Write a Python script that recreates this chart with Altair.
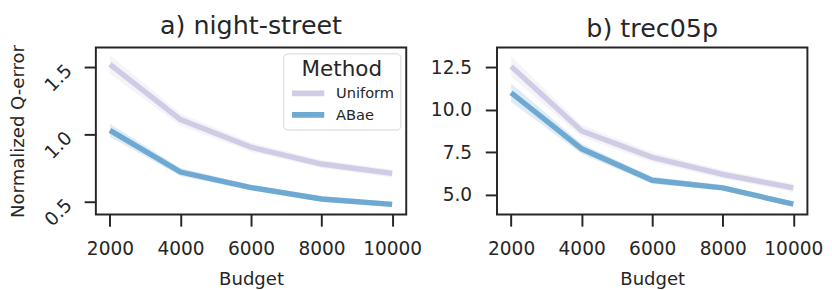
import altair as alt
import pandas as pd

budgets = [2000, 4000, 6000, 8000, 10000]
methods = ["Uniform", "ABae"]

ns_uniform = [1.52, 1.11, 0.905, 0.78, 0.71]
ns_uniform_ci = [0.07, 0.045, 0.035, 0.03, 0.03]
ns_abae = [1.03, 0.72, 0.605, 0.52, 0.48]
ns_abae_ci = [0.05, 0.03, 0.02, 0.02, 0.02]

tr_uniform = [12.55, 8.75, 7.2, 6.2, 5.4]
tr_uniform_ci = [0.6, 0.35, 0.3, 0.25, 0.25]
tr_abae = [11.0, 7.7, 5.85, 5.4, 4.45]
tr_abae_ci = [0.55, 0.3, 0.2, 0.15, 0.15]

colors = ["#cfcce5", "#6ea9d2"]
FONT = "DejaVu Sans"
INK = "#262626"


def make_df(uni, uni_ci, abae, abae_ci):
    rows = []
    for m, vals, cis in [("Uniform", uni, uni_ci), ("ABae", abae, abae_ci)]:
        for b, v, c in zip(budgets, vals, cis):
            rows.append({"Budget": b, "value": v, "lo": v - c, "hi": v + c, "Method": m})
    return pd.DataFrame(rows)


def panel(title, df, ydomain, yticks, ytitle, label_angle, label_pad, title_pad, legend):
    xenc = alt.X(
        "Budget:Q",
        scale=alt.Scale(domain=[1600, 10400], nice=False, zero=False),
        axis=alt.Axis(values=budgets, format="d", title="Budget"),
    )
    yscale = alt.Scale(domain=ydomain, nice=False, zero=False)
    yaxis = alt.Axis(
        values=yticks,
        format=".1f",
        title=ytitle,
        labelAngle=label_angle,
        labelPadding=label_pad,
        titlePadding=title_pad,
    )
    base = alt.Chart(df)
    band = base.mark_area(opacity=0.22).encode(
        x=xenc,
        y=alt.Y("lo:Q", scale=yscale, axis=yaxis),
        y2="hi:Q",
        fill=alt.Fill("Method:N", scale=alt.Scale(domain=methods, range=colors), legend=None),
    )
    line = base.mark_line(strokeWidth=5.5).encode(
        x=xenc,
        y=alt.Y("value:Q", scale=yscale, axis=yaxis),
        color=alt.Color("Method:N", scale=alt.Scale(domain=methods, range=colors), legend=legend),
    )
    return alt.layer(band, line).properties(
        width=318,
        height=171,
        title=alt.TitleParams(title, fontSize=26, font=FONT, fontWeight="normal", color=INK, offset=6),
    )


legend = alt.Legend(
    title="Method",
    orient="top-right",
    offset=6,
    symbolType="stroke",
    symbolSize=1089,
    symbolStrokeWidth=6,
    clipHeight=18,
    fillColor="white",
    strokeColor="#d5d5d5",
    padding=6,
    cornerRadius=4,
    titleFontSize=22,
    titleFontWeight="normal",
    titleFont=FONT,
    titleColor=INK,
    labelFont=FONT,
    labelFontSize=15,
    labelColor=INK,
    titleAnchor="middle",
    rowPadding=4,
    labelOffset=9,
    titlePadding=4,
)

left = panel(
    "a) night-street",
    make_df(ns_uniform, ns_uniform_ci, ns_abae, ns_abae_ci),
    [0.405, 1.646],
    [0.5, 1.0, 1.5],
    "Normalized Q-error",
    315,
    16,
    14,
    legend,
)
right = panel(
    "b) trec05p",
    make_df(tr_uniform, tr_uniform_ci, tr_abae, tr_abae_ci),
    [3.84, 13.66],
    [5.0, 7.5, 10.0, 12.5],
    None,
    0,
    14,
    12,
    None,
)

chart = (
    alt.hconcat(left, right, spacing=6)
    .resolve_legend(color="independent")
    .configure_view(stroke=INK, strokeWidth=2)
    .configure_axis(
        domain=False,
        grid=False,
        tickColor=INK,
        tickWidth=2,
        tickSize=12,
        labelFont=FONT,
        labelFontSize=19,
        labelColor=INK,
        labelPadding=14,
        titleFont=FONT,
        titleFontSize=18.5,
        titleFontWeight="normal",
        titleColor=INK,
        titlePadding=12,
    )
    .properties(padding=0)
)

chart.save("out.html", embed_options={"renderer": "svg", "actions": False})
